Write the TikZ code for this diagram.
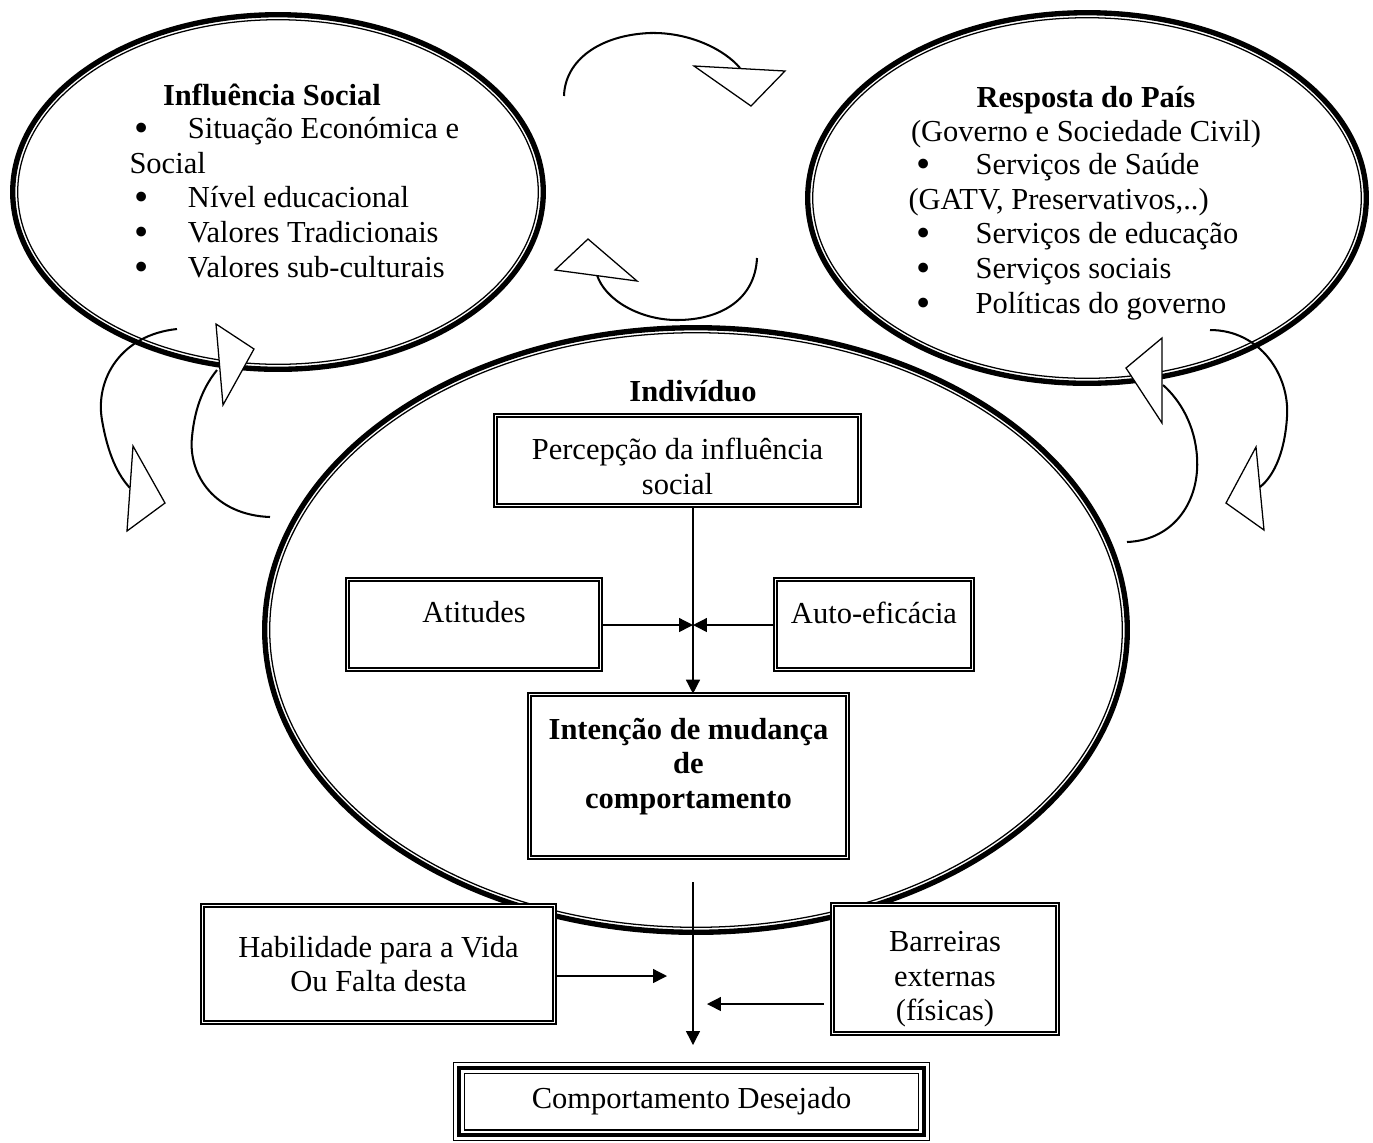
\documentclass[tikz,border=0pt]{standalone}
\usepackage{fontspec}
\setmainfont{Liberation Serif}
\usetikzlibrary{arrows.meta, positioning, shapes.geometric}
\newcommand{\listdot}{\raisebox{-1.2pt}{\fontsize{16pt}{16pt}\selectfont\textbullet}}

\begin{document}
\fontsize{12pt}{13.6pt}\selectfont
\begin{tikzpicture}[x=0.3933pt, y=-0.3933pt,
    ringout/.style={line width=2.1pt},
    ringin/.style={line width=0.5pt},
    dbox/.style={draw, fill=white, double, double distance=0.6pt, line width=0.65pt, align=center},
    tbox/.style={draw=white, line width=3.6pt, align=center,
        preaction={fill=white, draw=black, line width=4.7pt},
        postaction={draw=black, line width=1.6pt}},
    flow/.style={line width=0.55pt, -{Triangle[length=5.5pt, width=5.5pt]}},
    cycarc/.style={line width=0.8pt},
    cychead/.style={draw, fill=white, line width=0.5pt, line join=miter}]
    \useasboundingbox (0,0) rectangle (1373,1142);

    % Rings
    \coordinate (inflc) at (278,192);
    \coordinate (respc) at (1087,198);
    \coordinate (indivc) at (696,630);
    \draw[ringout] (inflc) ellipse [x radius=265.3, y radius=177.3];
    \draw[ringin] (inflc) ellipse [x radius=260.3, y radius=172.3];
    \draw[ringout] (respc) ellipse [x radius=279.3, y radius=185.3];
    \draw[ringin] (respc) ellipse [x radius=274.3, y radius=180.3];
    \draw[ringout] (indivc) ellipse [x radius=431.3, y radius=302.3];
    \draw[ringin] (indivc) ellipse [x radius=426.3, y radius=297.3];

    % Circular arrows, top
    \draw[cycarc] (564,96) .. controls (565,60) and (600,35) .. (650,33) .. controls (690,32) and (725,50) .. (740,68);
    \draw[cychead] (694,66) -- (785,71) -- (751,106) -- cycle;
    \draw[cycarc] (757,258) .. controls (755,300) and (720,320) .. (677,320) .. controls (640,320) and (605,300) .. (597,275);
    \draw[cychead] (555,270) -- (588,239) -- (637,281) -- cycle;

    % Circular arrows, left
    \draw[cycarc] (177,329) .. controls (120,335) and (95,380) .. (102,420) .. controls (108,455) and (118,475) .. (130,488);
    \draw[cychead] (133,446) -- (165,503) -- (127,531) -- cycle;
    \draw[cycarc] (270,517) .. controls (215,515) and (188,475) .. (192,437) .. controls (195,405) and (205,385) .. (217,370);
    \draw[cychead] (216,324) -- (254,349) -- (223,405) -- cycle;

    % Circular arrows, right
    \draw[cycarc] (1210,330) .. controls (1260,330) and (1290,375) .. (1287,417) .. controls (1285,450) and (1275,475) .. (1260,487);
    \draw[cychead] (1256,447) -- (1264,530) -- (1226,503) -- cycle;
    \draw[cycarc] (1127,542) .. controls (1175,540) and (1200,500) .. (1197,457) .. controls (1195,425) and (1180,400) .. (1163,385);
    \draw[cychead] (1162,338) -- (1162,423) -- (1126,368) -- cycle;

    % Ring texts
    \node[font=\bfseries] (inflhead) at (272,95) {Influência Social};
    \node[anchor=base west, inner sep=0pt, align=left] (infllist) at (129,277) {%
        \makebox[23pt][l]{\hspace{2pt}\listdot}Situação Económica e\\
        Social\\
        \makebox[23pt][l]{\hspace{2pt}\listdot}Nível educacional\\
        \makebox[23pt][l]{\hspace{2pt}\listdot}Valores Tradicionais\\
        \makebox[23pt][l]{\hspace{2pt}\listdot}Valores sub-culturais};
    \node[align=center] (resphead) at (1086,117) {\textbf{Resposta do País}\\(Governo e Sociedade Civil)};
    \node[anchor=base west, inner sep=0pt, align=left] (resplist) at (908,313) {%
        \makebox[26.4pt][l]{\hspace{3.2pt}\listdot}Serviços de Saúde\\
        (GATV, Preservativos,..)\\
        \makebox[26.4pt][l]{\hspace{3.2pt}\listdot}Serviços de educação\\
        \makebox[26.4pt][l]{\hspace{3.2pt}\listdot}Serviços sociais\\
        \makebox[26.4pt][l]{\hspace{3.2pt}\listdot}Políticas do governo};
    \node[font=\bfseries] (indivhead) at (693,391) {Indivíduo};

    % Boxes
    \node[dbox, minimum width=143.2pt, minimum height=35.4pt, text height=26.5pt] (percep) at (677.5,460.5) {Percepção da influência\\social};
    \node[dbox, minimum width=99.5pt, minimum height=35.4pt, text depth=9.6pt] (atit) at (474,624.5) {Atitudes};
    \node[dbox, minimum width=77.5pt, minimum height=35.4pt, text depth=9.6pt] (autoef) at (874,624.5) {Auto-eficácia};
    \node[dbox, minimum width=125.1pt, minimum height=64.1pt, text depth=10.1pt, font=\bfseries] (intent) at (688.5,776) {Intenção de mudança\\de\\comportamento};
    \node[dbox, minimum width=138.4pt, minimum height=46pt] (skills) at (378.5,964) {Habilidade para a Vida\\Ou Falta desta};
    \node[dbox, minimum width=88.5pt, minimum height=50.7pt, inner ysep=1.5pt, text height=43.2pt] (barrier) at (945,969) {Barreiras\\externas\\(físicas)};
    \node[tbox, minimum width=182.9pt, minimum height=26.4pt] (goal) at (691.5,1101.5) {Comportamento Desejado};

    % Arrows
    \coordinate (hub) at (693,625);
    \coordinate (outtop) at (693,882);
    \coordinate (outend) at (693,1045);
    \coordinate (skillend) at (667,976);
    \coordinate (barrend) at (707,1004);
    \draw[flow] (percep.south -| hub) -- (intent.north -| hub);
    \draw[flow] (atit.east |- hub) -- (hub);
    \draw[flow] (autoef.west |- hub) -- (hub);
    \draw[flow] (outtop) -- (outend);
    \draw[flow] (skills.east |- skillend) -- (skillend);
    \draw[flow] ([xshift=-3pt]barrier.west |- barrend) -- (barrend);
\end{tikzpicture}
\end{document}
